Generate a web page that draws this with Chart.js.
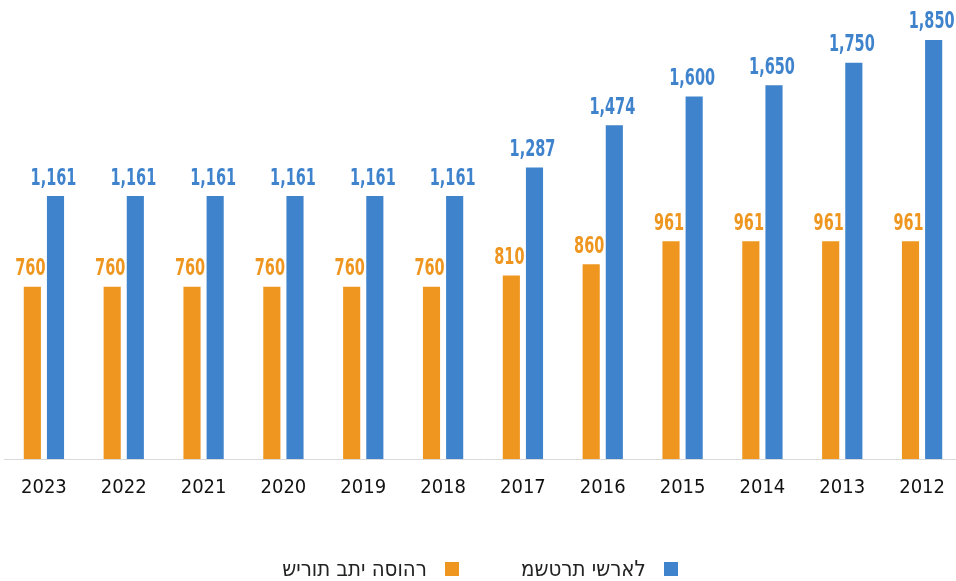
<!DOCTYPE html>
<html>
<head>
<meta charset="utf-8">
<script src="https://cdn.jsdelivr.net/npm/chart.js@4"></script>
<style>
  html, body { margin: 0; padding: 0; background: #fff; overflow: hidden; }
  #wrap { position: relative; width: 956px; height: 581px; overflow: hidden; }
  #myChart { position: absolute; left: 0; top: 0; }
  #legend {
    position: absolute; left: 4px; top: 555px; width: 952px; height: 28px;
    display: flex; justify-content: center; direction: rtl;
    font-family: 'DejaVu Sans Condensed', 'DejaVu Sans', sans-serif;
    font-size: 22px; line-height: 28px; color: #222;
  }
  #legend .item { display: flex; align-items: center; margin-left: 62px; }
  #legend .item:last-child { margin-left: 0; }
  #legend .box { width: 14px; height: 14px; margin-left: 18px; }
  /* the source image shows the hebrew glyphs in left-to-right order */
  #legend .txt { direction: ltr; unicode-bidi: bidi-override; }
</style>
</head>
<body>
<div id="wrap">
  <canvas id="myChart" width="962" height="581"></canvas>
  <div id="legend"></div>
</div>
<script>
const years = ['2023', '2022', '2021', '2020', '2019', '2018', '2017', '2016', '2015', '2014', '2013', '2012'];
const prisonService = [760, 760, 760, 760, 760, 760, 810, 860, 961, 961, 961, 961];
const israelPolice = [1161, 1161, 1161, 1161, 1161, 1161, 1287, 1474, 1600, 1650, 1750, 1850];
const seriesNames = ['שירות בתי הסוהר', 'משטרת ישראל'];

const ORANGE = '#EE961F';
const BLUE = '#3F83CD';
const FONT = "'DejaVu Sans Condensed', 'DejaVu Sans', sans-serif";

// values on top of each bar (squeezed a bit to look condensed)
const barLabels = {
    id: 'barLabels',
    afterDatasetsDraw(chart) {
        const ctx = chart.ctx;
        const sx = 0.7;
        ctx.save();
        ctx.font = 'bold 23px ' + FONT;
        ctx.textAlign = 'center';
        ctx.textBaseline = 'bottom';
        ctx.scale(sx, 1);
        chart.data.datasets.forEach((ds, i) => {
            ctx.fillStyle = ds.backgroundColor;
            chart.getDatasetMeta(i).data.forEach((bar, j) => {
                ctx.fillText(ds.data[j].toLocaleString('en-US'), (bar.x - 2) / sx, bar.y - 6);
            });
        });
        ctx.restore();
    }
};

// html legend, police first (rightmost)
const htmlLegend = {
    id: 'htmlLegend',
    afterUpdate(chart) {
        const box = document.getElementById('legend');
        box.innerHTML = '';
        const items = Chart.defaults.plugins.legend.labels.generateLabels(chart).reverse();
        items.forEach(it => {
            const li = document.createElement('div');
            li.className = 'item';
            const sw = document.createElement('span');
            sw.className = 'box';
            sw.style.background = it.fillStyle;
            const tx = document.createElement('span');
            tx.className = 'txt';
            tx.textContent = it.text;
            li.appendChild(sw);
            li.appendChild(tx);
            box.appendChild(li);
        });
    }
};

new Chart(document.getElementById('myChart'), {
    type: 'bar',
    data: {
        labels: years,
        datasets: [
            { label: seriesNames[0], data: prisonService, backgroundColor: ORANGE },
            { label: seriesNames[1], data: israelPolice, backgroundColor: BLUE }
        ]
    },
    options: {
        responsive: false,
        animation: false,
        categoryPercentage: 0.58,
        barPercentage: 0.74,
        layout: { padding: { top: 6, left: 4, right: 0, bottom: 78 } },
        plugins: {
            legend: { display: false },
            tooltip: { enabled: false }
        },
        scales: {
            x: {
                grid: { display: false, drawTicks: false },
                border: { display: true, color: '#d9d9d9' },
                ticks: { color: '#111', padding: 17, font: { family: FONT, size: 20 } },
                afterFit(scale) { scale.height = 44; }
            },
            y: {
                display: false,
                min: 0,
                max: 2000
            }
        }
    },
    plugins: [barLabels, htmlLegend]
});
</script>
</body>
</html>
